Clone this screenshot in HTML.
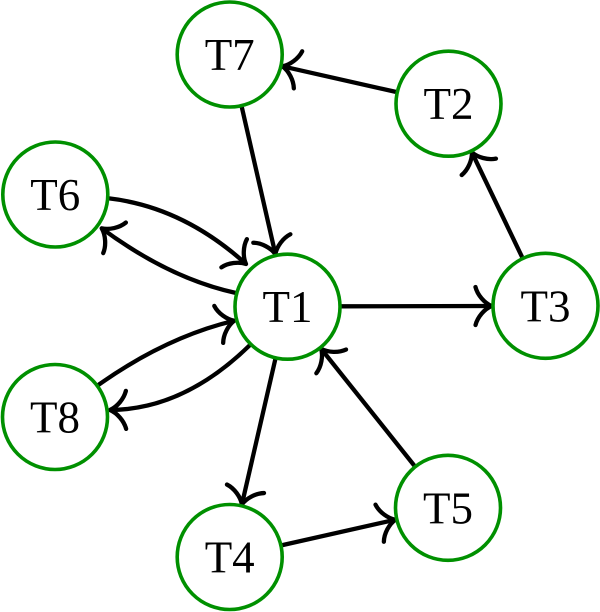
<!DOCTYPE html>
<html>
<head>
<meta charset="utf-8">
<style>
  html, body { margin: 0; padding: 0; background: #fff; }
  svg { display: block; }
  text { font-family: "Liberation Serif", "DejaVu Serif", serif; font-size: 45px; fill: #000; }
</style>
</head>
<body>
<svg width="600" height="612" viewBox="0 0 600 612" xmlns="http://www.w3.org/2000/svg">
  <defs>
    <marker id="ah" markerUnits="userSpaceOnUse" orient="auto" refX="0" refY="0" markerWidth="40" markerHeight="40" overflow="visible" style="overflow:visible">
      <path d="M-16,-19 C-14,-11 -7,-3 0,0 C-7,3 -14,11 -16,19" fill="none" stroke="#000" stroke-width="4.3" stroke-linecap="round" stroke-linejoin="round"/>
    </marker>
  </defs>

  <g fill="none" stroke="#000" stroke-width="4.3" marker-end="url(#ah)">
    <!-- straight edges -->
    <path d="M395.8,91.9 L282.4,66.3"/>
    <path d="M241.8,107.1 L275.4,254.1"/>
    <path d="M341.5,306.3 L491.5,306"/>
    <path d="M522.1,257.1 L471.9,152.4"/>
    <path d="M275.3,359.3 L241.9,504.4"/>
    <path d="M282.4,545.1 L395.3,519.7"/>
    <path d="M414.3,465.6 L321.2,348.9"/>
    <!-- curved edges -->
    <path d="M108.3,198.3 Q182.85,206.85 246,264"/>
    <path d="M236,293 Q169.15,278.35 101.7,228.3"/>
    <path d="M98.3,385 Q165.7,337.15 234.3,320.7"/>
    <path d="M250,345 Q184,409.5 110,410"/>
  </g>

  <g fill="#fff" stroke="#009000" stroke-width="3.6">
    <circle cx="229.7" cy="54.5" r="52.5"/>
    <circle cx="448.5" cy="103.7" r="52.5"/>
    <circle cx="55.3" cy="194.5" r="52.5"/>
    <circle cx="287.5" cy="306.7" r="52.5"/>
    <circle cx="545.5" cy="305.8" r="52.5"/>
    <circle cx="55" cy="417" r="52.5"/>
    <circle cx="229.7" cy="557" r="52.5"/>
    <circle cx="448" cy="507.8" r="52.5"/>
  </g>

  <g text-anchor="middle">
    <text x="229.7" y="70">T7</text>
    <text x="448.5" y="119.2">T2</text>
    <text x="55.3" y="210">T6</text>
    <text x="287.5" y="322.2">T1</text>
    <text x="545.5" y="321.3">T3</text>
    <text x="55" y="432.5">T8</text>
    <text x="229.7" y="572.5">T4</text>
    <text x="448" y="523.3">T5</text>
  </g>
</svg>
</body>
</html>
